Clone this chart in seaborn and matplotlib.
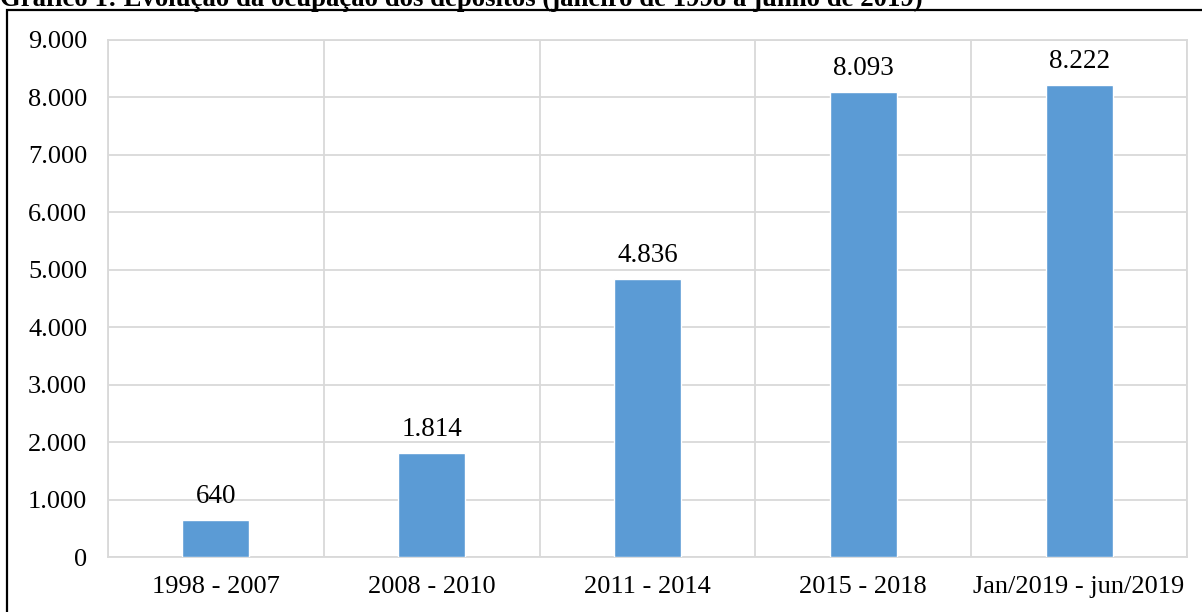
import pandas as pd
import seaborn as sns
import matplotlib.pyplot as plt
import matplotlib.patches as patches
from matplotlib.ticker import FuncFormatter, MultipleLocator

periods = ["1998 - 2007", "2008 - 2010", "2011 - 2014", "2015 - 2018", "Jan/2019 - jun/2019"]
occupancy = [640, 1814, 4836, 8093, 8222]

TITLE = "Gráfico 1: Evolução da ocupação dos depósitos (janeiro de 1998 a junho de 2019)"
BAR_COLOR = "#5b9bd5"
GRID_COLOR = "#d9d9d9"


def thousands(v, pos=None):
    return f"{int(v):,}".replace(",", ".")


sns.set_style("white")
plt.rcParams['font.family'] = ['Liberation Serif', 'DejaVu Serif']
plt.rcParams['text.color'] = 'black'
plt.rcParams['xtick.color'] = 'black'
plt.rcParams['ytick.color'] = 'black'

df = pd.DataFrame({"period": periods, "value": occupancy})

fig = plt.figure(figsize=(12.02, 6.12), dpi=100)
ax = fig.add_axes([108 / 1202, 55 / 612, 1079 / 1202, 517 / 612])

sns.barplot(data=df, x="period", y="value", color=BAR_COLOR, width=0.31,
            saturation=1, ax=ax, zorder=3)

ax.set_xlim(-0.5, len(periods) - 0.5)
ax.set_ylim(0, 9000)
ax.yaxis.set_major_locator(MultipleLocator(1000))
ax.yaxis.set_major_formatter(FuncFormatter(thousands))
ax.set_xticks([i + 0.5 for i in range(-1, len(periods))], minor=True)

ax.grid(axis="y", which="major", color=GRID_COLOR, linewidth=1.3, zorder=0)
ax.grid(axis="x", which="minor", color=GRID_COLOR, linewidth=1.3, zorder=0)
ax.grid(axis="x", which="major", visible=False)
for s in ax.spines.values():
    s.set_color(GRID_COLOR)
    s.set_linewidth(1.3)

ax.tick_params(axis="both", which="both", length=0, labelsize=19, labelcolor="black")
ax.tick_params(axis="y", pad=15)
ax.tick_params(axis="x", pad=14)
ax.set_xlabel("")
ax.set_ylabel("")

ax.bar_label(ax.containers[0], labels=[thousands(v) for v in occupancy],
             padding=8, fontsize=19.5, color="black")

# frame around the chart and the cut-off caption above it
fig.patches.append(patches.Rectangle((7 / 1202, -0.1), 1.2, 1.1 - 10 / 612,
                                     transform=fig.transFigure, fill=False,
                                     edgecolor="black", linewidth=1.6))
fig.text(0.0, 1 - 6 / 612, TITLE, fontsize=19.3, fontweight="bold", va="baseline",
         ha="left", color="black")

fig.savefig("out.png", dpi=100)
